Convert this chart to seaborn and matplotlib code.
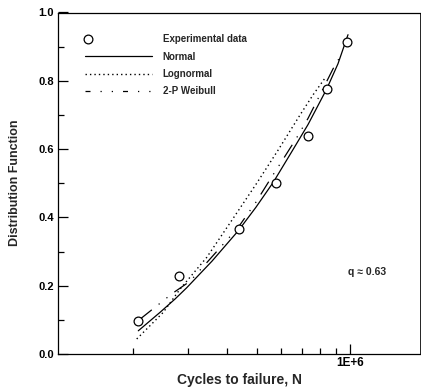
import matplotlib
matplotlib.use("Agg")
import matplotlib.pyplot as plt
import matplotlib.ticker as mticker
from matplotlib.lines import Line2D
from matplotlib.legend_handler import HandlerLine2D
import numpy as np
import pandas as pd
import seaborn as sns

# ---- data ----
exp_N = [2.075e5, 2.808e5, 4.375e5, 5.78e5, 7.305e5, 8.43e5, 9.78e5]
exp_F = [0.096, 0.229, 0.366, 0.500, 0.638, 0.775, 0.913]

normal_N = [2.075e5, 2.439e5, 2.726e5, 2.973e5, 3.588e5, 4.362e5, 4.975e5,
            5.657e5, 6.484e5, 7.322e5, 8.410e5, 9.147e5, 9.853e5]
normal_F = [0.068, 0.122, 0.161, 0.194, 0.272, 0.361, 0.430,
            0.503, 0.592, 0.672, 0.776, 0.850, 0.935]

lognormal_N = [2.051e5, 2.264e5, 2.498e5, 2.829e5, 3.450e5, 4.203e5, 5.0e5,
               5.871e5, 6.899e5, 7.615e5, 8.307e5]
lognormal_F = [0.044, 0.083, 0.122, 0.190, 0.283, 0.398, 0.500,
               0.598, 0.700, 0.760, 0.808]

weibull_N = [2.102e5, 2.350e5, 2.498e5, 2.659e5, 3.047e5, 3.510e5, 4.352e5,
             4.975e5, 5.603e5, 6.080e5, 6.696e5, 7.322e5, 8.063e5, 8.815e5, 9.493e5]
weibull_F = [0.102, 0.137, 0.156, 0.176, 0.213, 0.275, 0.370,
             0.445, 0.520, 0.570, 0.630, 0.690, 0.765, 0.835, 0.885]

labels = ["Experimental data", "Normal", "Lognormal", "2-P Weibull"]
x_label = "Cycles to failure, N"
y_label = "Distribution Function"
annotation = "q \u2248 0.63"

# ---- styling ----
sns.set_theme(style="ticks")
plt.rcParams["font.family"] = ["Liberation Sans", "DejaVu Sans"]
plt.rcParams["font.weight"] = "bold"

fig = plt.figure(figsize=(4.21, 3.90), dpi=100)
ax = fig.add_axes([58.5 / 421, 36 / 390, (420 - 58.5) / 421, (354 - 12.5) / 390])

df_exp = pd.DataFrame({"N": exp_N, "F": exp_F})
df_norm = pd.DataFrame({"N": normal_N, "F": normal_F})
df_logn = pd.DataFrame({"N": lognormal_N, "F": lognormal_F})
df_weib = pd.DataFrame({"N": weibull_N, "F": weibull_F})

logn_dash = (0, (1, 2.2))
weib_dash = (0, (12, 7, 1, 7, 1, 7))

sns.lineplot(data=df_norm, x="N", y="F", ax=ax, color="black", lw=0.9,
             sort=False, estimator=None)
sns.lineplot(data=df_logn, x="N", y="F", ax=ax, color="black", lw=1.0,
             linestyle=logn_dash, sort=False, estimator=None)
sns.lineplot(data=df_weib, x="N", y="F", ax=ax, color="black", lw=0.9,
             linestyle=weib_dash, sort=False, estimator=None)
sns.scatterplot(data=df_exp, x="N", y="F", ax=ax, marker="o", s=40,
                facecolor="white", edgecolor="black", linewidth=0.9, zorder=3)

ax.set_xscale("log")
ax.set_xlim(1.147e5, 1.682e6)
ax.set_ylim(0, 1.0)

ax.xaxis.set_major_locator(mticker.FixedLocator([1e6]))
ax.xaxis.set_major_formatter(mticker.FixedFormatter(["1E+6"]))
ax.xaxis.set_minor_locator(mticker.FixedLocator([2e5, 3e5, 4e5, 5e5, 6e5, 7e5, 8e5, 9e5]))
ax.xaxis.set_minor_formatter(mticker.NullFormatter())

ax.yaxis.set_major_locator(mticker.MultipleLocator(0.2))
ax.yaxis.set_minor_locator(mticker.MultipleLocator(0.1))
ax.yaxis.set_major_formatter(mticker.FormatStrFormatter("%.1f"))

ax.tick_params(axis="both", which="major", direction="in", length=7, width=0.9,
               color="black", labelcolor="black")
ax.tick_params(axis="both", which="minor", direction="in", length=4, width=0.9,
               color="black")
ax.tick_params(axis="y", which="major", labelsize=8, pad=3.5)
ax.tick_params(axis="x", which="major", labelsize=8.5, pad=2)
for lab in ax.get_xticklabels() + ax.get_yticklabels():
    lab.set_fontweight("bold")

for side in ["left", "bottom", "top", "right"]:
    ax.spines[side].set_visible(True)
    ax.spines[side].set_color("black")
    ax.spines[side].set_linewidth(0.9)
ax.spines["right"].set_linewidth(0.6)

ax.set_xlabel(x_label, fontsize=10, fontweight="bold", labelpad=3)
ax.set_ylabel(y_label, fontsize=9, fontweight="bold", labelpad=12)

ax.text(0.80, 0.24, annotation, transform=ax.transAxes, fontsize=7.5,
        fontweight="bold", ha="left", va="center")


class LeftMarkerHandler(HandlerLine2D):
    def create_artists(self, legend, orig_handle, xdescent, ydescent, width,
                       height, fontsize, trans):
        y = (height - ydescent) / 2
        art = Line2D([-xdescent + 0.05 * width], [y])
        self.update_prop(art, orig_handle, legend)
        art.set_linestyle("none")
        art.set_transform(trans)
        return [art]


h_exp = Line2D([], [], marker="o", ms=6.3, mfc="white", mec="black", mew=0.9,
               linestyle="none")
h_norm = Line2D([], [], color="black", lw=0.9)
h_logn = Line2D([], [], color="black", lw=1.0, linestyle=logn_dash)
h_weib = Line2D([], [], color="black", lw=0.9, linestyle=(0, (4, 8, 1, 8, 1, 8)))

leg = ax.legend([h_exp, h_norm, h_logn, h_weib], labels,
                handler_map={h_exp: LeftMarkerHandler()},
                loc="upper left", bbox_to_anchor=(0.073, 0.936),
                borderaxespad=0, borderpad=0, frameon=False,
                fontsize=7, handlelength=6.9, handletextpad=1.1,
                labelspacing=0.75)
for t in leg.get_texts():
    t.set_fontweight("bold")

fig.savefig("out.png", dpi=100)
